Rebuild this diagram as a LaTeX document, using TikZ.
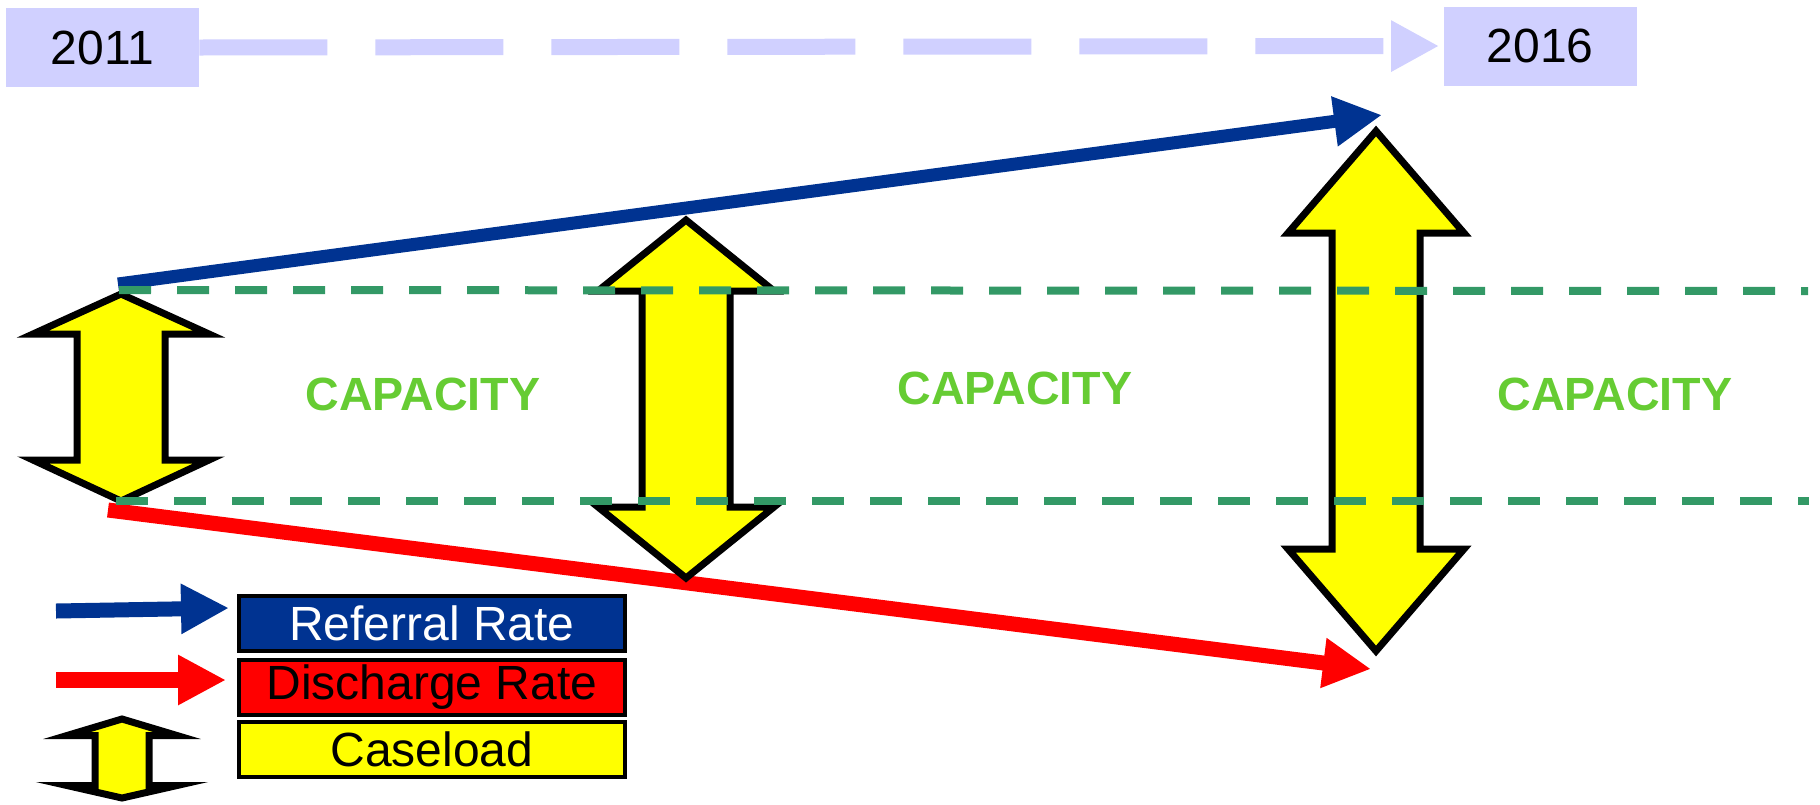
\documentclass[tikz,border=0pt]{standalone}
\usepackage{fontspec}
\setmainfont{Liberation Sans}
\usetikzlibrary{arrows.meta}
\definecolor{yearblue}{RGB}{208,208,255}
\definecolor{refblue}{RGB}{0,51,145}
\definecolor{disred}{RGB}{255,0,0}
\definecolor{loadyellow}{RGB}{255,255,0}
\definecolor{capgreen}{RGB}{102,204,51}
\definecolor{lineteal}{RGB}{51,153,102}
% up-down block arrow: centre x, top tip, head base, lower head base, bottom tip, head half width, shaft half width
\newcommand{\loadarrow}[7]{%
  \draw[caseload] (#1,#2) -- (#1+#6,#3) -- (#1+#7,#3) -- (#1+#7,#4) -- (#1+#6,#4) -- (#1,#5)
    -- (#1-#6,#4) -- (#1-#7,#4) -- (#1-#7,#3) -- (#1-#6,#3) -- cycle;}
\begin{document}
\begin{tikzpicture}[x=0.5pt,y=-0.5pt,
    yearbox/.style={fill=yearblue, minimum width=96.5pt, minimum height=39.5pt, inner sep=0pt, font=\fontsize{24pt}{28pt}\selectfont},
    yearline/.style={yearblue, line width=8pt, dash pattern=on 64pt off 24pt, -{Triangle[length=24pt,width=24pt]}, shorten >=2pt},
    capline/.style={lineteal, line width=4pt, dash pattern=on 16pt off 13pt},
    caplabel/.style={capgreen, font=\fontsize{23.3pt}{27pt}\selectfont\bfseries},
    caseload/.style={fill=loadyellow, draw=black, line width=3.5pt, line join=miter},
    rateline/.style={line width=#1, -{Triangle[length=24pt,width=23.5pt]}},
    keybox/.style={draw=black, line width=2pt, minimum width=193pt, minimum height=27.5pt, inner sep=0pt, font=\fontsize{24pt}{28pt}\selectfont}]
    \useasboundingbox (0,0) rectangle (1820,804);
    % time line
    \node[yearbox] (y2011) at (102.5,47.5) {2011};
    \node[yearbox] (y2016) at (1540,46) {2016};
    \draw[yearline] (y2011.east) -- (y2016.west);
    % rates
    \coordinate (refA) at (118,284);
    \coordinate (refB) at (1382,115);
    \coordinate (disA) at (108,510);
    \coordinate (disB) at (1371,669);
    \draw[rateline=7.5pt, disred] (disA) -- (disB);
    \draw[rateline=6.5pt, refblue] (refA) -- (refB);
    % caseload
    \loadarrow{121}{294}{334}{460}{501}{88}{44}
    \loadarrow{686}{220}{291}{507}{578}{88}{44}
    \loadarrow{1376}{131}{233}{549}{651}{88}{44}
    % capacity band
    \draw[capline] (119,290) -- (1808,291);
    \draw[capline] (116,501) -- (1809,501);
    \node[caplabel] (cap1) at (423,394) {CAPACITY};
    \node[caplabel] (cap2) at (1015,388) {CAPACITY};
    \node[caplabel] (cap3) at (1615,394) {CAPACITY};
    % key
    \node[keybox, fill=refblue, text=white] (keyref) at (432,623.5) {Referral Rate};
    \node[keybox, fill=disred] (keydis) at (432,687) {Discharge Rate};
    \node[keybox, fill=loadyellow] (keyload) at (432,749.5) {Caseload};
    \coordinate (krefA) at (56,611);
    \coordinate (krefB) at (229,608);
    \coordinate (kdisA) at (56,680);
    \coordinate (kdisB) at (226,680);
    \draw[rateline=7.5pt, refblue] (krefA) -- (krefB);
    \draw[rateline=8pt, disred] (kdisA) -- (kdisB);
    \loadarrow{122}{719}{735.5}{785.5}{798}{55}{27}
\end{tikzpicture}
\end{document}
